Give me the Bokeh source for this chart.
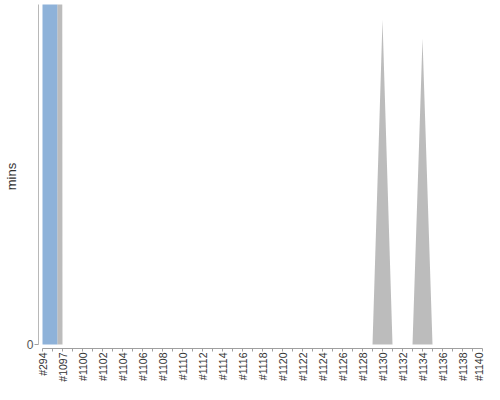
import math
from bokeh.plotting import figure
from bokeh.models import Range1d, FixedTicker
from bokeh.embed import file_html
from bokeh.resources import INLINE

# ---- data ----
builds = ["#294", "#1096", "#1097", "#1099",
          "#1100", "#1101", "#1102", "#1103", "#1104", "#1105", "#1106", "#1107",
          "#1108", "#1109", "#1110", "#1111", "#1112", "#1113", "#1114", "#1115",
          "#1116", "#1117", "#1118", "#1119", "#1120", "#1121", "#1122", "#1123",
          "#1124", "#1125", "#1126", "#1127", "#1128", "#1129", "#1130", "#1131",
          "#1132", "#1133", "#1134", "#1135", "#1136", "#1137", "#1138", "#1139",
          "#1140"]
# build durations in minutes
durations = [45.0, 45.0, 0.0, 0.0,
             0.0, 0.0, 0.0, 0.0, 0.0, 0.0, 0.0, 0.0,
             0.0, 0.0, 0.0, 0.0, 0.0, 0.0, 0.0, 0.0,
             0.0, 0.0, 0.0, 0.0, 0.0, 0.0, 0.0, 0.0,
             0.0, 0.0, 0.0, 0.0, 0.0, 0.0, 0.955, 0.0,
             0.0, 0.0, 0.9, 0.0, 0.0, 0.0, 0.0, 0.0,
             0.0]
results = ["SUCCESS", "SUCCESS"] + ["ABORTED"] * 43
result_colors = {"SUCCESS": "#729FCF", "ABORTED": "#ABABAB"}
y_top = 1.0

n = len(durations)

def top_points(i):
    pts = []
    if i > 0:
        pts.append((i - 0.5, (durations[i - 1] + durations[i]) / 2.0))
    pts.append((i, durations[i]))
    if i < n - 1:
        pts.append((i + 0.5, (durations[i] + durations[i + 1]) / 2.0))
    return pts

# group consecutive builds with the same result into one area polygon
runs = []
start = 0
for i in range(1, n + 1):
    if i == n or results[i] != results[start]:
        runs.append((start, i - 1))
        start = i

xs, ys, fills = [], [], []
for a, b in runs:
    pts = []
    for i in range(a, b + 1):
        pts.extend(top_points(i))
    px = [pts[0][0]] + [p[0] for p in pts] + [pts[-1][0]]
    py = [0.0] + [p[1] for p in pts] + [0.0]
    xs.append(px)
    ys.append(py)
    fills.append(result_colors[results[a]])

p = figure(width=484, height=384, output_backend="svg", toolbar_location=None,
           x_range=Range1d(-0.4, (n - 1) + 0.2),
           y_range=Range1d(-y_top * 4 / 341, y_top),
           min_border_left=38, min_border_right=0, min_border_top=4,
           min_border_bottom=28)
p.patches(xs=xs, ys=ys, fill_color=fills, fill_alpha=0.8, line_color=None)

p.xgrid.visible = False
p.ygrid.visible = False
p.outline_line_color = None
p.background_fill_color = "white"
p.border_fill_color = "white"

xa = p.xaxis[0]
xa.axis_label = None
xa.axis_label_standoff = 0
xa.ticker = FixedTicker(ticks=list(range(0, n, 2)), minor_ticks=list(range(1, n, 2)))
xa.major_label_overrides = {i: builds[i] for i in range(0, n, 2)}
xa.major_label_orientation = math.pi / 2
xa.major_label_text_font = "Liberation Sans"
xa.major_label_text_font_size = "10.5px"
xa.major_label_text_color = "#333333"
xa.major_label_standoff = 1
xa.major_tick_out = 3
xa.major_tick_in = 0
xa.minor_tick_out = 3
xa.minor_tick_in = 0
xa.axis_line_color = "#a0a0a0"
xa.major_tick_line_color = "#a0a0a0"
xa.minor_tick_line_color = "#a0a0a0"
xa.bounds = (0, n - 1)

ya = p.yaxis[0]
ya.ticker = FixedTicker(ticks=[0], minor_ticks=[])
ya.major_label_text_font = "Liberation Sans"
ya.major_label_text_font_size = "12px"
ya.major_label_text_color = "#555555"
ya.major_label_standoff = 1
ya.major_tick_out = 4
ya.major_tick_in = 0
ya.axis_line_color = "#b8b8b8"
ya.major_tick_line_color = "#a0a0a0"
ya.bounds = (0, y_top)
ya.axis_label = "mins"
ya.axis_label_text_font = "Liberation Sans"
ya.axis_label_text_font_size = "13px"
ya.axis_label_text_font_style = "normal"
ya.axis_label_text_color = "#333333"
ya.axis_label_standoff = 5

open("out.html", "w").write(file_html(p, INLINE))
